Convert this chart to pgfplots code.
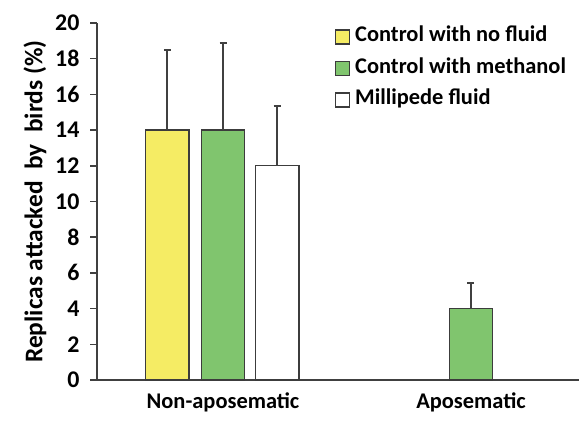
\documentclass[border=0pt]{standalone}
\usepackage{pgfplots}
\pgfplotsset{compat=1.18}
\usepackage{fontspec}
\setmainfont{Carlito}
\definecolor{cyellow}{RGB}{245,236,100}
\definecolor{cgreen}{RGB}{128,197,110}
\definecolor{cedge}{RGB}{60,60,60}
\definecolor{caxis}{RGB}{64,64,64}
\begin{document}
\begin{tikzpicture}[x=1bp,y=1bp]
\path[use as bounding box] (0,0) rectangle (579,420);
\begin{axis}[
  at={(97bp,40bp)}, anchor=south west,
  scale only axis, width=482bp, height=357bp,
  xmin=0, xmax=482, ymin=0, ymax=20,
  axis x line=bottom, axis y line=left,
  axis line style={-, draw=caxis, line width=1.5bp},
  ytick={0,2,...,20},
  tick align=outside,
  major tick length=7bp,
  ytick style={draw=caxis, line width=1.5bp},
  xtick={126,374},
  xticklabels={Non-aposematic,Aposematic},
  xtick style={draw=none},
  /pgf/number format/assume math mode=true,
  tick label style={font=\fontsize{22.5}{26}\selectfont\bfseries, text=black},
  yticklabel style={font=\fontsize{24}{28}\selectfont\bfseries, xshift=-7bp},
  xticklabel style={yshift=-5bp, inner sep=1bp},
  ylabel={Replicas attacked~~by~~birds~(\%)},
  ylabel style={font=\fontsize{25.5}{30}\selectfont\bfseries, yshift=2bp},
  legend style={draw=none, fill=none, at={(0.487,0.998)}, anchor=north west,
    font=\fontsize{22.5}{26}\selectfont\bfseries,
    nodes={inner sep=1bp, text height=15bp, text depth=5bp},
    row sep=9.5bp},
  legend cell align=left,
  legend image code/.code={\draw[#1, line width=1.3bp] (0bp,-7bp) rectangle (14bp,7bp); \path (18bp,0bp);},
  error bars/y dir=plus, error bars/y explicit,
  error bars/error bar style={draw=caxis, line width=1.8bp},
  error bars/error mark options={rotate=90, mark size=3.5bp, line width=1.8bp, draw=caxis},
]
\addplot[ybar, bar width=43.5, bar shift=0pt, fill=cyellow, draw=cedge, line width=1.3bp]
  coordinates {(70.35,14) +- (0,4.47)};
\addlegendentry{Control with no fluid}
\addplot[ybar, bar width=43.5, bar shift=0pt, fill=cgreen, draw=cedge, line width=1.3bp]
  coordinates {(126,14) +- (0,4.9) (373.9,4) +- (0,1.42)};
\addlegendentry{Control with methanol}
\addplot[ybar, bar width=43.5, bar shift=0pt, fill=white, draw=cedge, line width=1.3bp]
  coordinates {(180.2,12) +- (0,3.35)};
\addlegendentry{Millipede fluid}
\end{axis}
\end{tikzpicture}
\end{document}
